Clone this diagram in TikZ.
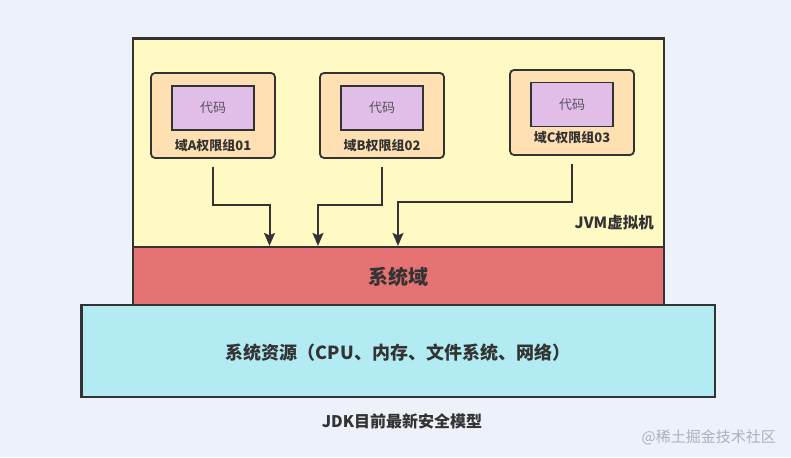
\documentclass[tikz,border=0pt]{standalone}
\usepackage{fontspec}
\setmainfont{Noto Sans CJK SC}
\usetikzlibrary{arrows.meta}
\definecolor{bgc}{HTML}{EDF2FA}
\definecolor{jvmc}{HTML}{FFF9C4}
\definecolor{domc}{HTML}{FFE0B2}
\definecolor{codec}{HTML}{E1BEE7}
\definecolor{sysc}{HTML}{E57373}
\definecolor{resc}{HTML}{B2EBF2}
\definecolor{strokec}{HTML}{333333}
\definecolor{txtc}{HTML}{333333}
\definecolor{codetxt}{HTML}{5A4F60}
\definecolor{wmc}{HTML}{ADB2BA}
\tikzset{
  layer/.style={draw=strokec, line width=2.2pt, inner sep=0pt},
  dombox/.style={draw=strokec, fill=domc, line width=1.8pt, rounded corners=4pt, minimum width=124pt, minimum height=85pt, inner sep=0pt},
  codebox/.style={draw=strokec, fill=codec, line width=1.8pt, minimum width=82pt, minimum height=44pt, inner sep=0pt, font=\fontsize{13pt}{15pt}\selectfont, text=codetxt},
  domlabel/.style={font=\bfseries\fontsize{13pt}{15pt}\selectfont, text=txtc, inner sep=0pt},
  arr/.style={draw=strokec, line width=2pt, -{Stealth[length=13pt,width=11pt,inset=2.5pt]}, shorten <=8pt},
}
\begin{document}
\begin{tikzpicture}[x=1pt,y=-1pt]
\fill[bgc] (0,0) rectangle (791,457);
\useasboundingbox (0,0) rectangle (791,457);
% layers
\node[layer, fill=jvmc, minimum width=531pt, minimum height=208.5pt] (jvm) at (398.5,142.75) {};
\node[layer, fill=sysc, minimum width=531pt, minimum height=58pt] (sys) at (398.5,276) {};
\node[layer, fill=resc, minimum width=633.5pt, minimum height=92pt] (res) at (398.25,351) {};
\node[font=\bfseries\fontsize{20pt}{24pt}\selectfont, text=txtc, inner sep=0pt] (systxt) at (398.5,276.5) {系统域};
\node[font=\bfseries\fontsize{18pt}{22pt}\selectfont, text=txtc, inner sep=0pt] (restxt) at (398,353) {系统资源（CPU、内存、文件系统、网络）};
\node[font=\bfseries\fontsize{15.5pt}{18pt}\selectfont, text=txtc, inner sep=0pt, anchor=east] (jvmtxt) at (654,223) {JVM虚拟机};
% domains
\node[dombox] (da) at (213,115.5) {};
\node[codebox] (ca) at (213,108) {代码};
\node[domlabel] (la) at (213,146) {域A权限组01};
\node[dombox] (db) at (382,115.5) {};
\node[codebox] (cb) at (382,108) {代码};
\node[domlabel] (lb) at (382,146) {域B权限组02};
\node[dombox] (dc) at (572,112.5) {};
\node[codebox] (cc) at (572,104.5) {代码};
\node[domlabel] (lc) at (572,138) {域C权限组03};
% arrows
\draw[arr] (da.south) |- (269.5,205) -- (269.5,205 |- sys.north);
\draw[arr] (db.south) |- (318,205) -- (318,205 |- sys.north);
\draw[arr, line width=1.7pt] (dc.south) |- (398,202) -- (398,202 |- sys.north);
% captions
\node[font=\bfseries\fontsize{16pt}{19pt}\selectfont, text=txtc, inner sep=0pt] (cap) at (402,421.5) {JDK目前最新安全模型};
\node[font=\fontsize{15pt}{18pt}\selectfont, text=wmc, inner sep=0pt, anchor=east] (wm) at (776,437) {@稀土掘金技术社区};
\end{tikzpicture}
\end{document}
